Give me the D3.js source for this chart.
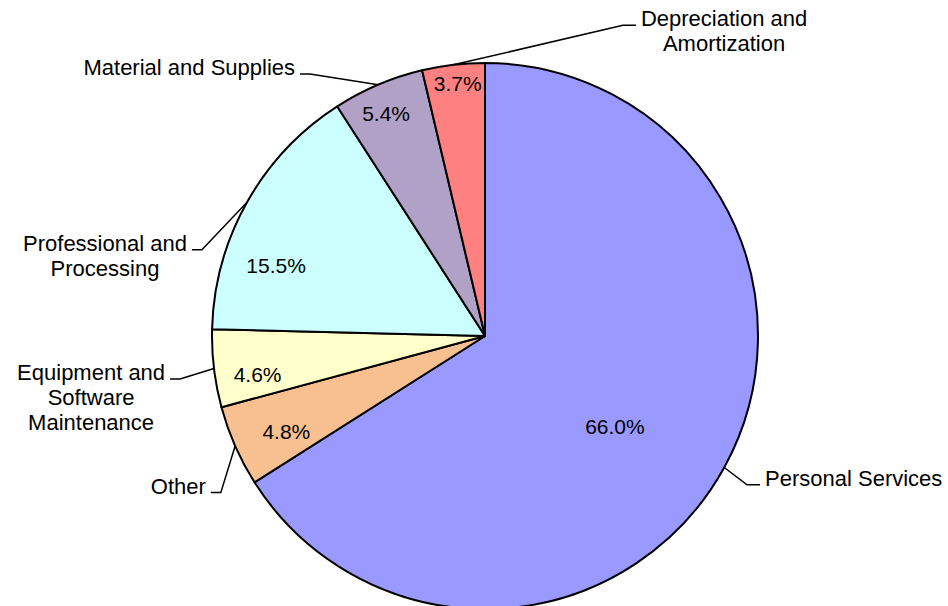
<!DOCTYPE html>
<html>
<head>
<meta charset="utf-8">
<script src="https://cdn.jsdelivr.net/npm/d3@7"></script>
<style>
  body { margin: 0; background: #fff; }
  text { font-family: Arial, "Liberation Sans", sans-serif; font-size: 21px; fill: #000; }
  text.cat { font-size: 22px; }
</style>
</head>
<body>
<div id="chart"></div>
<script>
// data, clockwise from 12 o'clock
const categories = ["Personal Services", "Other", "Equipment and Software Maintenance",
  "Professional and Processing", "Material and Supplies", "Depreciation and Amortization"];
const labelLines = [["Personal Services"], ["Other"], ["Equipment and", "Software", "Maintenance"],
  ["Professional and", "Processing"], ["Material and Supplies"], ["Depreciation and", "Amortization"]];
const shares = [66.0, 4.8, 4.6, 15.5, 5.4, 3.7];
const colors = ["#9999FF", "#F8C090", "#FFFFCC", "#CCFFFF", "#B2A1C7", "#FF8080"];

// label layout (polar, relative to the pie)
const pctRadius = [0.581, 0.808, 0.845, 0.807, 0.893, 0.929];
const pctShift = [6.2, -2.0, -2.8, -10.8, -0.9, 0.5];
const elbowRadius = [1.104, 1.125, 1.128, 1.084, 1.154, 1.245];
const elbowShift = [0.8, -6.9, -1.2, -12.4, -10.7, 30.6];

const width = 948, height = 606;
const cx = 485, cy = 336, radius = 273;

const svg = d3.select("#chart").append("svg")
  .attr("width", width)
  .attr("height", height);

const g = svg.append("g").attr("transform", "translate(" + cx + "," + cy + ")");

const pie = d3.pie().sort(null).value(d => d);
const arcs = pie(shares);
const arc = d3.arc().innerRadius(0).outerRadius(radius);
const toRad = Math.PI / 180;

g.selectAll("path.slice")
  .data(arcs)
  .enter()
  .append("path")
  .attr("class", "slice")
  .attr("d", arc)
  .attr("fill", (d, i) => colors[i])
  .attr("stroke", "#000")
  .attr("stroke-width", 2)
  .attr("stroke-linejoin", "round");

// percent labels
g.selectAll("text.pct")
  .data(arcs)
  .enter()
  .append("text")
  .attr("class", "pct")
  .attr("text-anchor", "middle")
  .attr("dy", "0.35em")
  .attr("transform", (d, i) => {
    const a = (d.startAngle + d.endAngle) / 2 + pctShift[i] * toRad;
    const p = d3.pointRadial(a, radius * pctRadius[i]);
    return "translate(" + p[0] + "," + p[1] + ")";
  })
  .text(d => d.data.toFixed(1) + "%");

// leader lines + category labels
arcs.forEach((d, i) => {
  const mid = (d.startAngle + d.endAngle) / 2;
  const start = d3.pointRadial(mid, radius);
  const elbow = d3.pointRadial(mid + elbowShift[i] * toRad, radius * elbowRadius[i]);
  const right = elbow[0] > 0;
  const end = [elbow[0] + (right ? 13 : -10), elbow[1]];

  g.append("path")
    .attr("d", d3.line()([start, elbow, end]))
    .attr("fill", "none")
    .attr("stroke", "#000")
    .attr("stroke-width", 1.5);

  const t = g.append("text")
    .attr("class", "cat")
    .attr("text-anchor", "middle");
  const tspans = labelLines[i].map((line, k) =>
    t.append("tspan").attr("y", end[1] + 1 + k * 25).text(line));
  const w = d3.max(tspans, s => s.node().getComputedTextLength());
  const x = right ? end[0] + 5 + w / 2 : end[0] - 5 - w / 2;
  tspans.forEach(s => s.attr("x", x));
});
</script>
</body>
</html>
